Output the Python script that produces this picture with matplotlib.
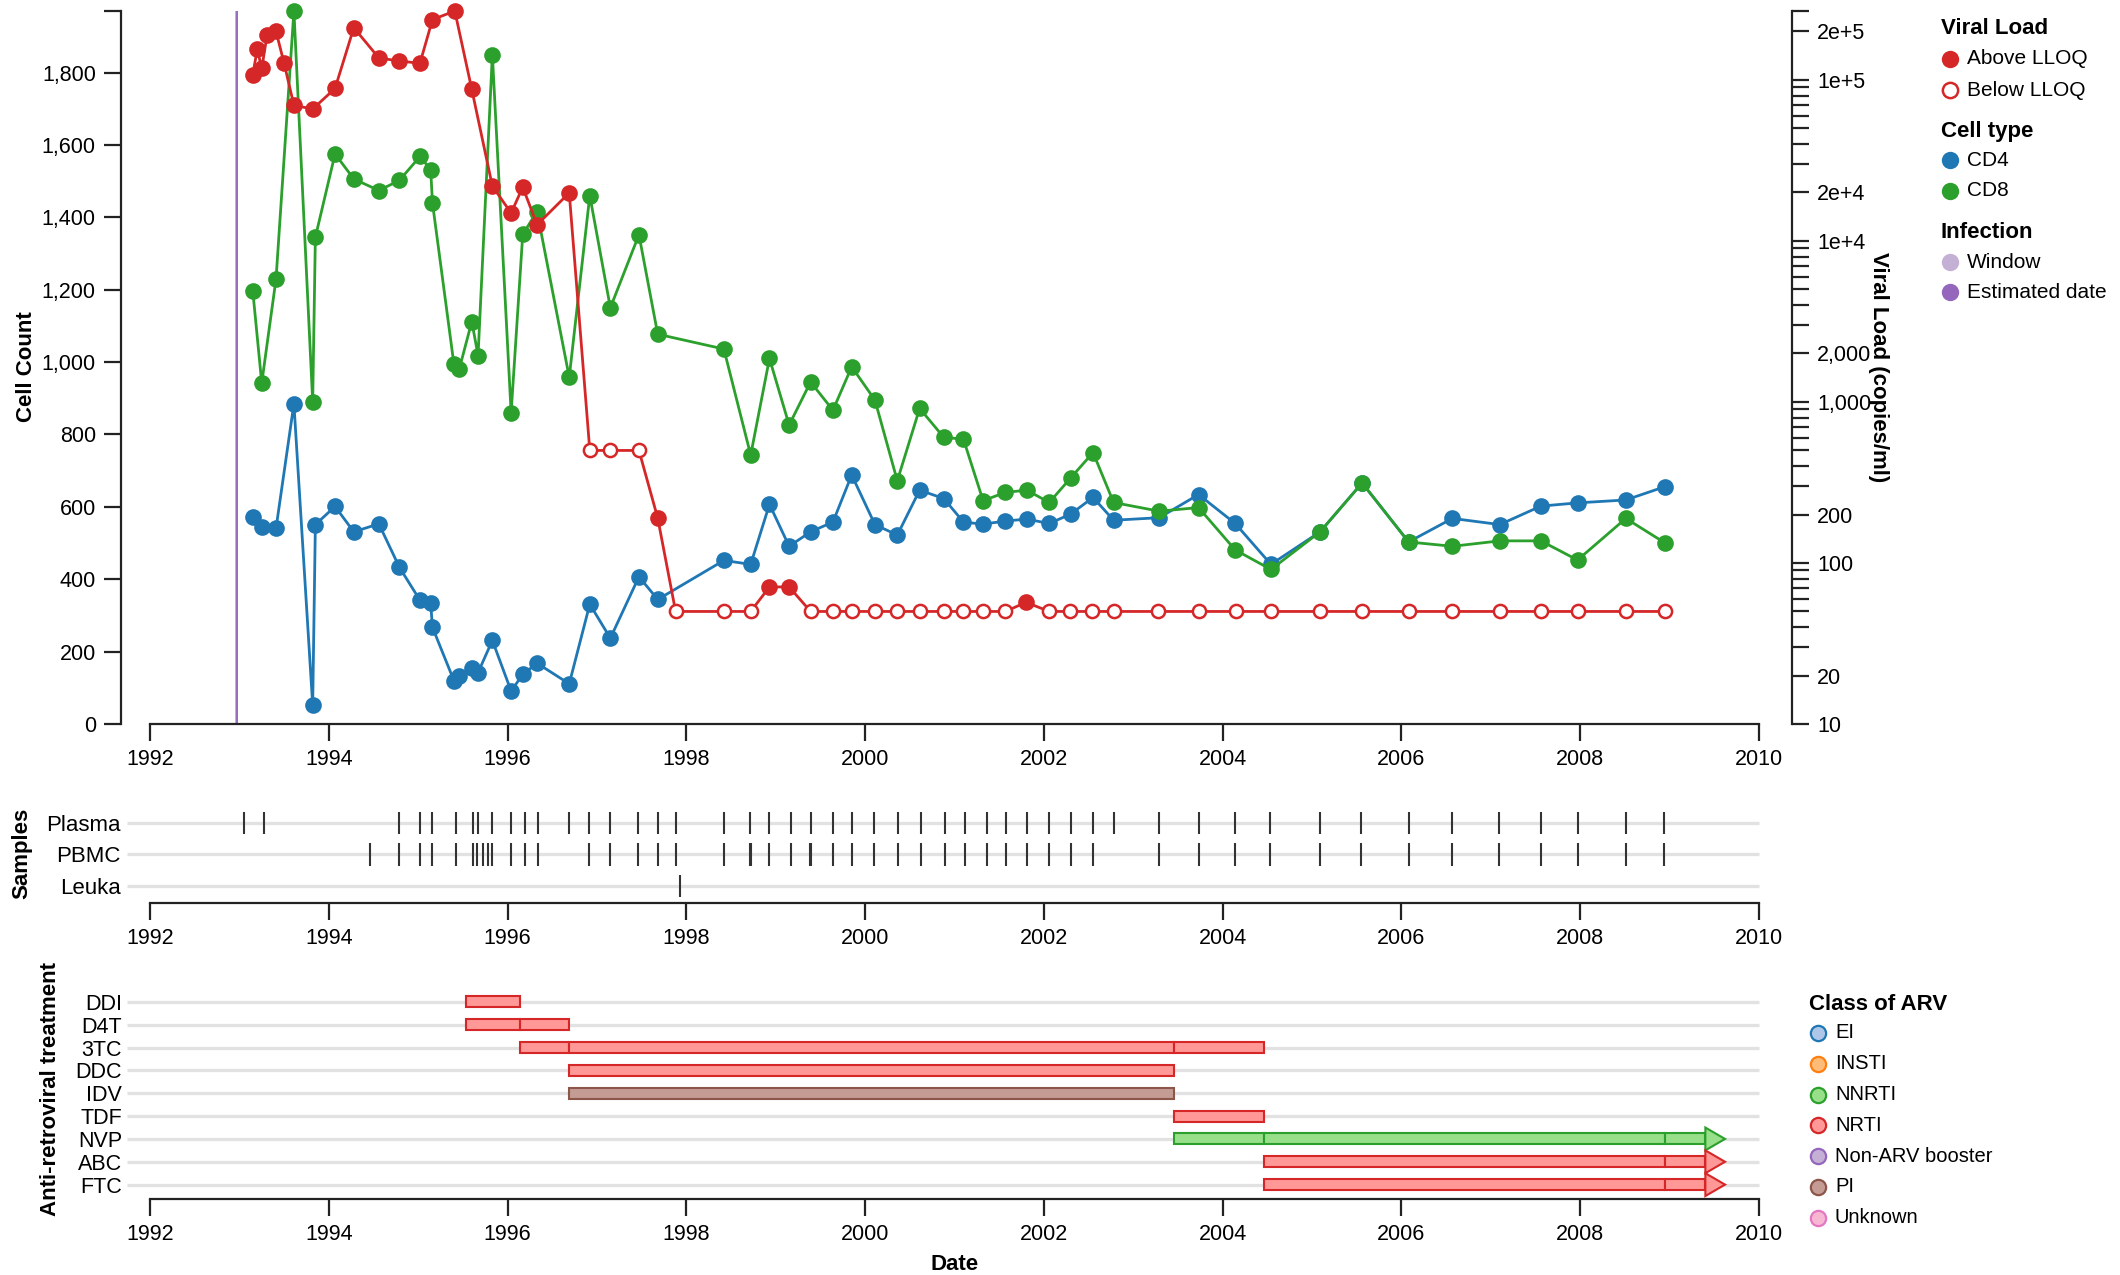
import numpy as np
import matplotlib
matplotlib.use("Agg")
import matplotlib.pyplot as plt
from matplotlib.lines import Line2D
from matplotlib.patches import Polygon
from matplotlib.ticker import FuncFormatter, NullFormatter

plt.rcParams['font.family'] = ['Liberation Sans', 'DejaVu Sans']

# ---- data ----
infection_est = 1992.97
infection_window = (1992.955, 1992.985)

cell_dates = [1993.15, 1993.25, 1993.41, 1993.61, 1993.82, 1993.85, 1994.07, 1994.28,
              1994.56, 1994.79, 1995.02, 1995.14, 1995.16, 1995.40, 1995.46, 1995.60,
              1995.67, 1995.83, 1996.04, 1996.17, 1996.33, 1996.69, 1996.92, 1997.15,
              1997.47, 1997.68, 1998.42, 1998.72, 1998.93, 1999.15, 1999.39, 1999.64,
              1999.85, 2000.11, 2000.36, 2000.61, 2000.88, 2001.10, 2001.32, 2001.57,
              2001.81, 2002.06, 2002.30, 2002.55, 2002.78, 2003.29, 2003.73, 2004.14,
              2004.54, 2005.09, 2005.56, 2006.08, 2006.57, 2007.10, 2007.56, 2007.97,
              2008.51, 2008.95]
cd4 = [573, 544, 541, 885, 52, 551, 601, 531, 553, 433, 342, 333, 267, 120, 133, 155,
       142, 231, 91, 137, 168, 111, 331, 237, 407, 344, 452, 441, 607, 491, 531, 558,
       688, 551, 522, 646, 623, 558, 552, 561, 566, 554, 580, 626, 563, 570, 634, 554,
       441, 531, 666, 503, 568, 551, 602, 611, 619, 656]
cd8 = [1196, 942, 1230, 1970, 891, 1345, 1575, 1506, 1474, 1502, 1568, 1532, 1440, 994,
       981, 1112, 1018, 1849, 860, 1353, 1416, 958, 1460, 1150, 1352, 1077, 1036, 743,
       1010, 826, 945, 867, 987, 895, 672, 872, 792, 787, 617, 640, 646, 612, 680, 750,
       612, 588, 598, 481, 427, 531, 666, 503, 491, 506, 506, 453, 568, 500]

vl_dates = [1993.15, 1993.20, 1993.25, 1993.31, 1993.41, 1993.50, 1993.61, 1993.82,
            1994.07, 1994.28, 1994.56, 1994.79, 1995.02, 1995.16, 1995.41, 1995.60,
            1995.83, 1996.04, 1996.17, 1996.33, 1996.69, 1996.92, 1997.15, 1997.47,
            1997.68, 1997.88, 1998.42, 1998.72, 1998.93, 1999.15, 1999.39, 1999.64,
            1999.85, 2000.11, 2000.36, 2000.61, 2000.88, 2001.10, 2001.32, 2001.57,
            2001.80, 2002.06, 2002.29, 2002.54, 2002.78, 2003.28, 2003.73, 2004.15,
            2004.54, 2005.09, 2005.56, 2006.08, 2006.57, 2007.10, 2007.56, 2007.97,
            2008.51, 2008.95]
vl_values = [1.08e5, 1.55e5, 1.18e5, 1.90e5, 2.00e5, 1.27e5, 6.95e4, 6.6e4,
             8.85e4, 2.11e5, 1.37e5, 1.31e5, 1.27e5, 2.37e5, 2.68e5, 8.73e4,
             2.19e4, 1.49e4, 2.16e4, 1.26e4, 1.99e4, 500, 500, 500,
             190, 50, 50, 50, 71, 71, 50, 50,
             50, 50, 50, 50, 50, 50, 50, 50,
             57, 50, 50, 50, 50, 50, 50, 50,
             50, 50, 50, 50, 50, 50, 50, 50,
             50, 50]
vl_below = [0] * 21 + [1, 1, 1, 0, 1, 1, 1, 0, 0] + [1] * 10 + [0] + [1] * 17

sample_types = ['Plasma', 'PBMC', 'Leuka']
plasma_dates = [1993.05, 1993.27, 1994.79, 1995.02, 1995.16, 1995.42, 1995.61, 1995.67,
                1995.83, 1996.04, 1996.19, 1996.34, 1996.69, 1996.91, 1997.15, 1997.46,
                1997.68, 1997.88, 1998.42, 1998.71, 1998.93, 1999.17, 1999.39, 1999.64,
                1999.85, 2000.10, 2000.37, 2000.63, 2000.89, 2001.12, 2001.36, 2001.58,
                2001.81, 2002.06, 2002.30, 2002.55, 2002.78, 2003.29, 2003.73, 2004.14,
                2004.53, 2005.09, 2005.55, 2006.08, 2006.56, 2007.09, 2007.56, 2007.98,
                2008.51, 2008.94]
pbmc_dates = [1994.46, 1994.79, 1995.02, 1995.16, 1995.42, 1995.61, 1995.66, 1995.72,
              1995.78, 1995.83, 1996.04, 1996.19, 1996.34, 1996.91, 1997.15, 1997.46,
              1997.68, 1997.88, 1998.42, 1998.71, 1998.72, 1998.93, 1999.17, 1999.38,
              1999.40, 1999.64, 1999.85, 2000.10, 2000.37, 2000.63, 2000.89, 2001.12,
              2001.36, 2001.58, 2001.81, 2002.06, 2002.30, 2002.55, 2003.29, 2003.73,
              2004.14, 2004.53, 2005.09, 2005.55, 2006.08, 2006.56, 2007.09, 2007.56,
              2007.98, 2008.51, 2008.94]
leuka_dates = [1997.93]

arv_drugs = ['DDI', 'D4T', '3TC', 'DDC', 'IDV', 'TDF', 'NVP', 'ABC', 'FTC']
arv_class = ['NRTI', 'NRTI', 'NRTI', 'NRTI', 'PI', 'NRTI', 'NNRTI', 'NRTI', 'NRTI']
arv_starts = [[1995.53], [1995.53, 1996.14], [1996.14, 1996.69, 2003.45], [1996.69],
              [1996.69], [2003.45], [2003.45, 2004.46, 2008.95], [2004.46, 2008.95],
              [2004.46, 2008.95]]
arv_ends = [[1996.14], [1996.14, 1996.69], [1996.69, 2003.45, 2004.46], [2003.45],
            [2003.45], [2004.46], [2004.46, 2008.95, 2009.40], [2008.95, 2009.40],
            [2008.95, 2009.40]]
arv_ongoing = [False, False, False, False, False, False, True, True, True]

arv_classes = ['EI', 'INSTI', 'NNRTI', 'NRTI', 'Non-ARV booster', 'PI', 'Unknown']
class_fill = ['#aec7e8', '#ffbb78', '#98df8a', '#ff9896', '#c5b0d5', '#c49c94', '#f7b6d2']
class_edge = ['#1f77b4', '#ff7f0e', '#2ca02c', '#d62728', '#9467bd', '#8c564b', '#e377c2']

blue, green, red = '#1f77b4', '#2ca02c', '#d62728'
axis_col = '#222222'
grid_col = '#e2e2e2'
fs = 15.5

W, H = 2120, 1275


def box(x0, y0, x1, y1):
    return [x0 / W, 1 - y1 / H, (x1 - x0) / W, (y1 - y0) / H]


def year_axis(a):
    a.set_xlim(1992, 2010)
    a.set_xticks(np.arange(1992, 2011, 2))
    a.spines['bottom'].set_linewidth(1.6)
    a.spines['bottom'].set_color(axis_col)
    a.tick_params(axis='x', length=12, width=1.6, color=axis_col, labelsize=fs, pad=6)


fig = plt.figure(figsize=(W / 100, H / 100), dpi=100)

# ---- top panel: cell counts and viral load ----
ax = fig.add_axes(box(150, 11, 1759, 724))
ax2 = ax.twinx()

ax.axvspan(*infection_window, color='#c5b0d5', lw=0, zorder=0)
ax.axvline(infection_est, color='#9467bd', lw=1.3, zorder=1)

ax.plot(cell_dates, cd4, '-o', color=blue, lw=2, ms=12, mew=0, clip_on=False, zorder=3)
ax.plot(cell_dates, cd8, '-o', color=green, lw=2, ms=12, mew=0, clip_on=False, zorder=4)

vd = np.array(vl_dates)
vv = np.array(vl_values)
below = np.array(vl_below, dtype=bool)
ax2.plot(vd, vv, color=red, lw=2, clip_on=False, zorder=3)
ax2.plot(vd[~below], vv[~below], 'o', color=red, ms=12, mew=0, clip_on=False, zorder=4)
ax2.plot(vd[below], vv[below], 'o', mfc='white', mec=red, mew=1.8, ms=9.5,
         clip_on=False, zorder=4)

cd_top = max(max(cd4), max(cd8))
ax.set_ylim(0, cd_top)
ax.set_yticks(np.arange(0, 1801, 200))
ax.set_yticks([cd_top], minor=True)
ax.yaxis.set_major_formatter(FuncFormatter(lambda v, p: f"{v:,.0f}"))
ax.yaxis.set_minor_formatter(NullFormatter())
year_axis(ax)
ax.spines['top'].set_visible(False)
ax.spines['right'].set_visible(False)
ax.spines['left'].set_position(('outward', 21))
ax.spines['left'].set_linewidth(1.6)
ax.spines['left'].set_color(axis_col)
ax.tick_params(axis='y', which='both', length=12, width=1.6, color=axis_col,
               labelsize=fs, pad=6)

vl_top = max(vl_values)
ax2.set_yscale('log')
ax2.set_ylim(10, vl_top)
major_vl = [10, 20, 100, 200, 1000, 2000, 1e4, 2e4, 1e5, 2e5]
major_lbl = ['10', '20', '100', '200', '1,000', '2,000', '1e+4', '2e+4', '1e+5', '2e+5']
minor_vl = [m * d for d in [10, 100, 1000, 1e4, 1e5] for m in range(3, 10)]
minor_vl = [v for v in minor_vl if v < vl_top] + [vl_top]
ax2.set_yticks(major_vl, major_lbl)
ax2.set_yticks(minor_vl, minor=True)
ax2.yaxis.set_minor_formatter(NullFormatter())
for s in ['top', 'left', 'bottom']:
    ax2.spines[s].set_visible(False)
ax2.spines['right'].set_position(('outward', 24))
ax2.spines['right'].set_linewidth(1.6)
ax2.spines['right'].set_color(axis_col)
ax2.tick_params(axis='y', which='both', length=12, width=1.6, color=axis_col,
                labelsize=fs, pad=6)

# ---- samples panel ----
axs = fig.add_axes(box(150, 800, 1759, 903))
axs.set_ylim(2.54, -0.73)
axs.hlines(range(len(sample_types)), -0.014, 1, transform=axs.get_yaxis_transform(),
           color=grid_col, lw=2.4, clip_on=False, zorder=0)
for r, dates in enumerate([plasma_dates, pbmc_dates, leuka_dates]):
    axs.vlines(dates, r - 0.36, r + 0.36, color='#333333', lw=1.5, zorder=2)
axs.set_yticks(range(len(sample_types)), sample_types)
axs.tick_params(axis='y', length=0, labelsize=16, pad=21)
year_axis(axs)
for s in ['top', 'left', 'right']:
    axs.spines[s].set_visible(False)

# ---- anti-retroviral treatment panel ----
axa = fig.add_axes(box(150, 975, 1759, 1199))
axa.set_ylim(8.63, -1.18)
axa.hlines(range(len(arv_drugs)), -0.014, 1, transform=axa.get_yaxis_transform(),
           color=grid_col, lw=2.4, clip_on=False, zorder=0)
bar_h = 0.48
head_len = 0.22
for r, drug in enumerate(arv_drugs):
    ci = arv_classes.index(arv_class[r])
    fc, ec = class_fill[ci], class_edge[ci]
    starts, ends = arv_starts[r], arv_ends[r]
    axa.barh([r] * len(starts), np.subtract(ends, starts), left=starts, height=bar_h,
             color=fc, edgecolor=ec, linewidth=1.5, zorder=2)
    if arv_ongoing[r]:
        e = ends[-1]
        head = Polygon([[e, r - 0.5], [e + head_len, r], [e, r + 0.5]], closed=True,
                       facecolor=fc, edgecolor=ec, linewidth=1.5, zorder=3)
        axa.add_patch(head)
axa.set_yticks(range(len(arv_drugs)), arv_drugs)
axa.tick_params(axis='y', length=0, labelsize=fs, pad=20)
year_axis(axa)
for s in ['top', 'left', 'right']:
    axa.spines[s].set_visible(False)

# ---- axis titles ----
fig.text(27 / W, 1 - 367 / H, 'Cell Count', rotation=90, ha='center', va='center',
         fontsize=16, fontweight='bold')
fig.text(1879 / W, 1 - 367 / H, 'Viral Load (copies/ml)', rotation=-90, ha='center',
         va='center', fontsize=16, fontweight='bold')
fig.text(22 / W, 1 - 853 / H, 'Samples', rotation=90, ha='center', va='center',
         fontsize=16, fontweight='bold')
fig.text(50 / W, 1 - 1089 / H, 'Anti-retroviral treatment', rotation=90, ha='center',
         va='center', fontsize=16, fontweight='bold')
fig.text(955 / W, 1 - 1264 / H, 'Date', ha='center', va='center', fontsize=16,
         fontweight='bold')


# ---- legends ----
def legend_head(x, y, text):
    fig.text(x / W, 1 - y / H, text, ha='left', va='center', fontsize=16, fontweight='bold')


def legend_item(x, y, text, size, tsize, **mk):
    fig.add_artist(Line2D([x / W], [1 - y / H], transform=fig.transFigure, marker='o',
                          linestyle='none', markersize=size, **mk))
    fig.text((x + 17) / W, 1 - y / H, text, ha='left', va='center', fontsize=tsize)


legend_head(1941, 28, 'Viral Load')
legend_item(1950, 59, 'Above LLOQ', 12.5, 15, color=red, mew=0)
legend_item(1950, 90, 'Below LLOQ', 11, 15, mfc='white', mec=red, mew=1.8)
legend_head(1941, 131, 'Cell type')
legend_item(1950, 160, 'CD4', 12.5, 15, color=blue, mew=0)
legend_item(1950, 191, 'CD8', 12.5, 15, color=green, mew=0)
legend_head(1941, 233, 'Infection')
legend_item(1950, 262, 'Window', 12.5, 15, color='#c5b0d5', mew=0)
legend_item(1950, 292, 'Estimated date', 12.5, 15, color='#9467bd', mew=0)

legend_head(1809, 1005, 'Class of ARV')
for i, cls in enumerate(arv_classes):
    legend_item(1818, 1033 + i * 30.8, cls, 11, 14.5, mfc=class_fill[i],
                mec=class_edge[i], mew=1.6)

fig.savefig('out.png', dpi=100)
